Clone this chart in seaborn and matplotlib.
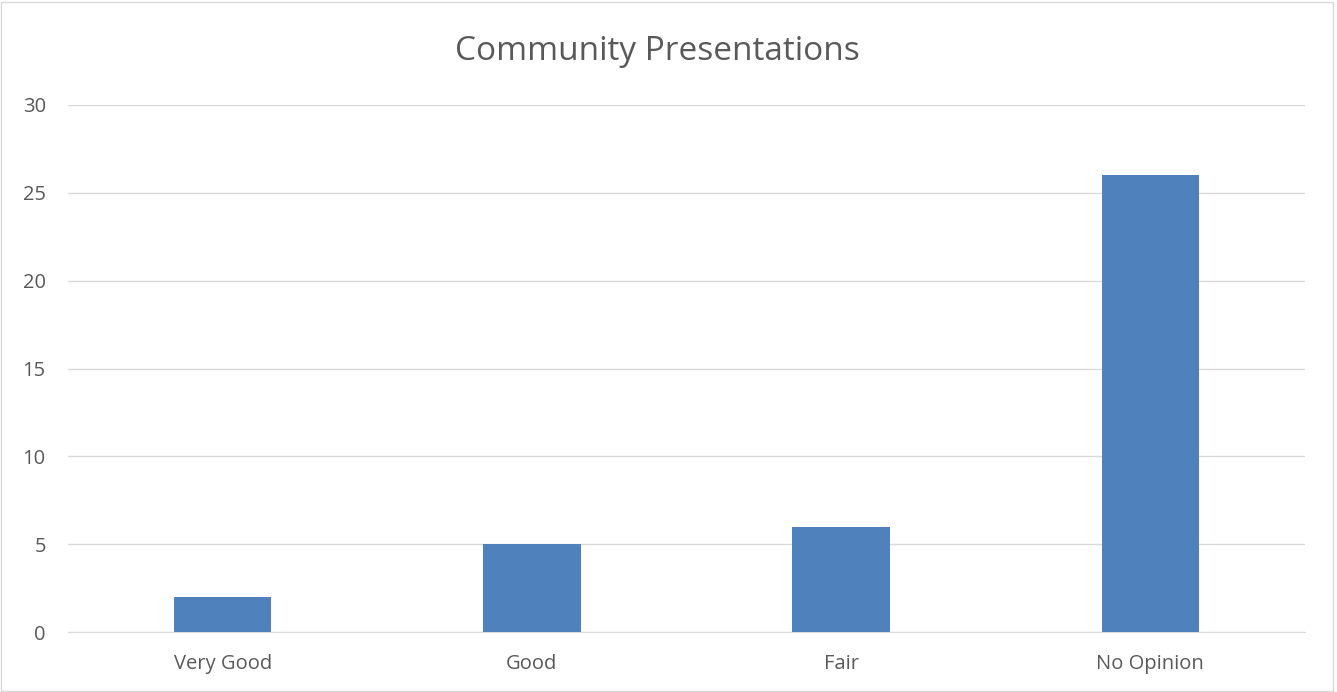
import matplotlib
matplotlib.use("Agg")
import matplotlib.pyplot as plt
import seaborn as sns
import pandas as pd

# dati del grafico
categorie = ["Very Good", "Good", "Fair", "No Opinion"]
valori = [2, 5, 6, 26]
titolo = "Community Presentations"

dataframe = pd.DataFrame({"categoria": categorie, "valore": valori})

sns.set_style("white")
plt.rcParams["font.family"] = ["Open Sans", "DejaVu Sans"]

fig = plt.figure(figsize=(13.37, 6.92), dpi=100)
ax = fig.add_axes([68 / 1337, 1 - 632 / 692, (1305 - 68) / 1337, (632 - 105) / 692])

sns.barplot(x="categoria", y="valore", data=dataframe, color="#4F81BD",
            width=0.315, saturation=1, linewidth=0, ax=ax, zorder=3)

ax.set_ylim(0, 30)
ax.set_yticks(range(0, 31, 5))
ax.set_xlim(-0.5, 3.5)
ax.yaxis.grid(True, color="#D9D9D9", linewidth=1, zorder=0)
ax.set_axisbelow(True)
for lato in ["top", "right", "left"]:
    ax.spines[lato].set_visible(False)
ax.spines["bottom"].set_color("#D9D9D9")
ax.tick_params(axis="both", length=0, labelsize=14.5, colors="#595959")
ax.tick_params(axis="x", pad=16)
ax.tick_params(axis="y", pad=16)
ax.set_xlabel("")
ax.set_ylabel("")

fig.text(657 / 1337, 1 - 51 / 692, titolo, ha="center", va="center",
         fontsize=24, color="#595959")

# bordo esterno
bordo = plt.Rectangle((0.001, 0.002), 0.996, 0.995, transform=fig.transFigure,
                      fill=False, edgecolor="#D9D9D9", linewidth=1)
fig.add_artist(bordo)

fig.savefig("out.png", dpi=100)
